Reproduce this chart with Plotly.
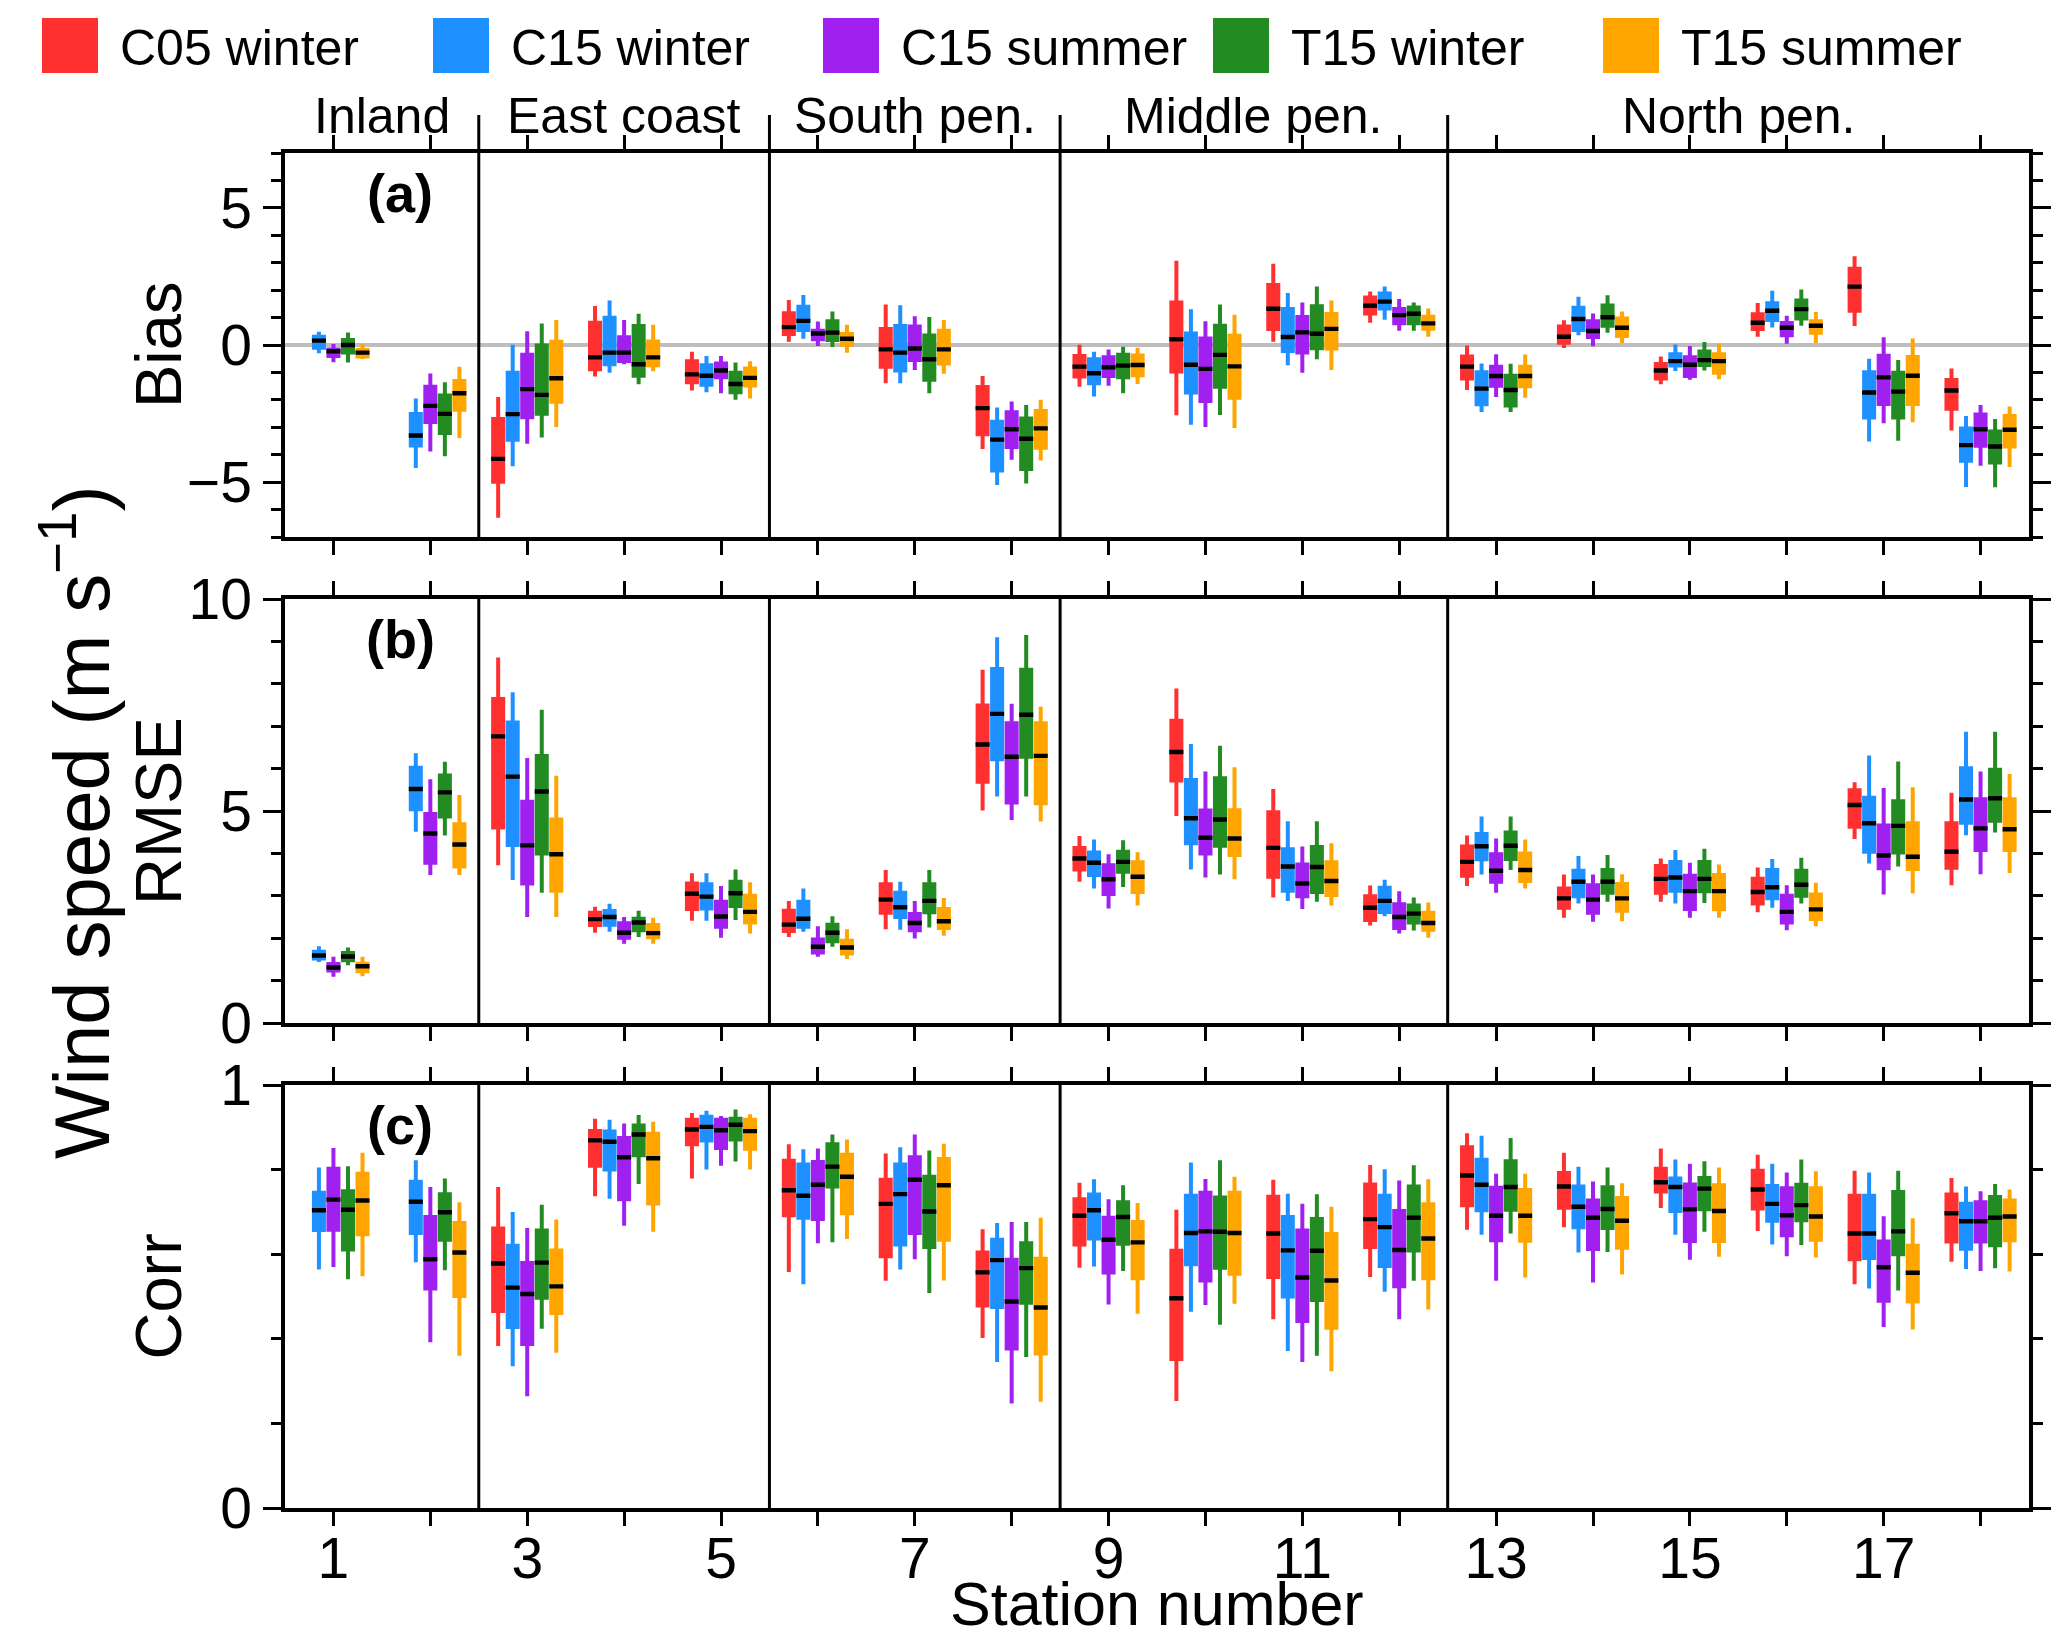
import plotly.graph_objects as go
from plotly.subplots import make_subplots

# the page puts an 8 px body margin round the figure, so the figure is
# 16 px smaller than the 2067x1646 window and positions below are given
# in window pixels
PAGE_PAD = 8
W, H = 2067 - 2 * PAGE_PAD, 1646 - 2 * PAGE_PAD
ML = 285 - PAGE_PAD
MR = W - (2029 - PAGE_PAD)
FONT = "Liberation Sans, Arial, Helvetica, sans-serif"

STATIONS = list(range(1, 19))
C05_STATIONS = STATIONS[2:]  # no C05 run over the two inland stations
LABELLED = STATIONS[::2]

SERIES = ["C05 winter", "C15 winter", "C15 summer", "T15 winter", "T15 summer"]
COLORS = ["#FF3030", "#1E90FF", "#A020F0", "#228B22", "#FFA500"]

REGIONS = ["Inland", "East coast", "South pen.", "Middle pen.", "North pen."]
REGION_EDGES = [0.5, 2.5, 5.5, 8.5, 12.5, 18.5]

# each row: (lower whisker, q1, median, q3, upper whisker)
BIAS_C05W = [
    (-6.30, -4.99, -4.15, -2.70, -1.90), (-1.15, -0.88, -0.45, 0.81, 1.42),
    (-1.66, -1.36, -1.07, -0.59, -0.25), (0.12, 0.40, 0.65, 1.16, 1.64),
    (-1.39, -0.79, -0.16, 0.58, 1.48), (-3.79, -3.25, -2.30, -1.53, -1.13),
    (-1.52, -1.15, -0.79, -0.40, 0.01), (-2.56, -0.97, 0.21, 1.55, 3.07),
    (0.12, 0.58, 1.32, 2.19, 2.96), (0.81, 1.15, 1.43, 1.73, 1.95),
    (-1.64, -1.22, -0.79, -0.42, -0.02), (-0.11, 0.08, 0.30, 0.67, 0.90),
    (-1.43, -1.22, -0.93, -0.69, -0.42), (0.30, 0.58, 0.81, 1.12, 1.53),
    (0.69, 1.25, 2.13, 2.78, 3.24), (-3.12, -2.32, -1.66, -1.28, -0.86),
]
BIAS_C15W = [
    (-0.30, -0.10, 0.16, 0.30, 0.48), (-4.48, -3.66, -3.30, -2.52, -1.95),
    (-4.42, -3.45, -2.52, -1.01, 0.01), (-1.01, -0.70, -0.28, 0.99, 1.62),
    (-1.72, -1.45, -1.12, -0.74, -0.40), (0.23, 0.55, 0.88, 1.39, 1.82),
    (-1.39, -0.93, -0.28, 0.69, 1.45), (-5.10, -4.58, -3.45, -2.80, -2.28),
    (-1.88, -1.39, -1.03, -0.52, -0.25), (-2.91, -1.73, -0.72, 0.42, 1.30),
    (-0.74, -0.22, 0.29, 1.31, 1.90), (0.92, 1.33, 1.58, 1.88, 2.13),
    (-2.44, -2.16, -1.59, -0.99, -0.67), (0.36, 0.55, 0.95, 1.36, 1.76),
    (-0.95, -0.75, -0.59, -0.34, 0.02), (0.64, 0.91, 1.25, 1.52, 1.98),
    (-3.52, -2.64, -1.73, -0.99, -0.50), (-5.18, -4.22, -3.65, -3.04, -2.59),
]
BIAS_C15S = [
    (-0.63, -0.40, -0.23, -0.16, 0.04), (-3.88, -2.81, -2.22, -1.52, -1.04),
    (-3.60, -2.63, -1.61, -0.36, 0.50), (-0.70, -0.58, -0.28, 0.28, 0.91),
    (-1.76, -1.18, -0.93, -0.67, -0.40), (-0.04, 0.21, 0.42, 0.52, 0.86),
    (-0.91, -0.55, -0.13, 0.67, 1.05), (-4.18, -3.72, -3.07, -2.45, -2.06),
    (-1.49, -1.13, -0.81, -0.45, -0.16), (-2.99, -2.04, -0.87, 0.24, 0.87),
    (-1.01, -0.27, 0.46, 1.02, 1.55), (0.52, 0.79, 1.09, 1.31, 1.68),
    (-1.90, -1.49, -1.13, -0.79, -0.34), (-0.05, 0.29, 0.51, 0.87, 1.15),
    (-1.27, -1.13, -0.72, -0.45, -0.04), (0.05, 0.36, 0.63, 0.80, 1.07),
    (-2.85, -2.15, -1.18, -0.39, 0.28), (-4.40, -3.67, -3.07, -2.53, -2.19),
]
BIAS_T15W = [
    (-0.64, -0.27, 0.00, 0.18, 0.46), (-4.06, -3.21, -2.51, -1.84, -1.36),
    (-3.37, -2.51, -1.82, -0.02, 0.78), (-1.43, -1.12, -0.70, 0.69, 1.14),
    (-2.00, -1.72, -1.42, -1.01, -0.64), (-0.07, 0.18, 0.45, 0.87, 1.22),
    (-1.76, -1.27, -0.52, 0.35, 1.02), (-5.05, -4.52, -3.42, -2.68, -2.19),
    (-1.76, -1.18, -0.75, -0.36, -0.06), (-2.55, -1.52, -0.36, 0.70, 1.48),
    (-0.52, -0.12, 0.41, 1.41, 2.13), (0.52, 0.79, 1.14, 1.37, 1.55),
    (-2.44, -2.21, -1.64, -1.12, -0.68), (0.45, 0.70, 1.01, 1.44, 1.81),
    (-0.93, -0.73, -0.55, -0.24, 0.11), (0.70, 0.97, 1.31, 1.62, 2.02),
    (-3.49, -2.64, -1.70, -1.01, -0.55), (-5.19, -4.28, -3.70, -3.15, -2.70),
]
BIAS_T15S = [
    (-0.51, -0.42, -0.28, -0.18, 0.04), (-3.39, -2.36, -1.76, -1.31, -0.79),
    (-2.99, -2.07, -1.21, 0.12, 0.91), (-0.96, -0.74, -0.45, 0.13, 0.74),
    (-1.95, -1.48, -1.20, -0.86, -0.59), (-0.28, 0.01, 0.23, 0.40, 0.74),
    (-1.05, -0.67, -0.16, 0.52, 0.91), (-4.21, -3.75, -3.04, -2.41, -2.00),
    (-1.42, -1.10, -0.73, -0.38, -0.10), (-3.03, -1.92, -0.78, 0.34, 1.10),
    (-0.91, -0.13, 0.59, 1.13, 1.62), (0.30, 0.59, 0.79, 1.03, 1.33),
    (-1.92, -1.50, -1.13, -0.79, -0.35), (0.07, 0.33, 0.63, 0.97, 1.22),
    (-1.25, -1.01, -0.59, -0.34, 0.05), (0.07, 0.45, 0.70, 0.87, 1.20),
    (-2.82, -2.15, -1.12, -0.44, 0.24), (-4.45, -3.70, -3.09, -2.59, -2.24),
]

RMSE_C05W = [
    (3.72, 4.61, 6.76, 7.64, 8.62), (2.13, 2.31, 2.45, 2.60, 2.74),
    (2.41, 2.69, 3.05, 3.29, 3.53), (2.03, 2.17, 2.32, 2.65, 2.88),
    (2.21, 2.60, 2.91, 3.27, 3.61), (5.01, 5.69, 6.57, 7.49, 8.33),
    (3.33, 3.62, 3.88, 4.13, 4.41), (4.88, 5.72, 6.39, 7.13, 7.89),
    (2.96, 3.45, 4.13, 4.97, 5.52), (2.30, 2.43, 2.72, 2.99, 3.24),
    (3.23, 3.47, 3.80, 4.16, 4.42), (2.48, 2.72, 2.94, 3.17, 3.50),
    (2.86, 3.07, 3.40, 3.70, 3.88), (2.61, 2.82, 3.09, 3.40, 3.67),
    (4.34, 4.63, 5.14, 5.49, 5.68), (3.25, 3.66, 4.04, 4.71, 5.43),
]
RMSE_C15W = [
    (1.44, 1.52, 1.59, 1.68, 1.81), (4.51, 5.04, 5.52, 6.02, 6.36),
    (3.37, 4.20, 5.81, 7.09, 7.80), (2.15, 2.32, 2.50, 2.64, 2.81),
    (2.41, 2.70, 2.98, 3.27, 3.53), (2.15, 2.27, 2.46, 2.86, 3.17),
    (2.20, 2.50, 2.73, 3.07, 3.33), (5.34, 6.22, 7.29, 8.35, 9.10),
    (3.17, 3.49, 3.78, 4.02, 4.33), (3.62, 4.24, 4.83, 5.73, 6.58),
    (2.88, 3.12, 3.69, 4.10, 4.76), (2.52, 2.62, 2.88, 3.19, 3.38),
    (3.50, 3.86, 4.17, 4.46, 4.87), (2.82, 2.99, 3.33, 3.59, 3.94),
    (2.82, 3.12, 3.43, 3.80, 4.08), (2.72, 2.94, 3.20, 3.61, 3.87),
    (3.76, 4.04, 4.71, 5.31, 6.31), (4.43, 4.72, 5.27, 6.01, 6.87),
]
RMSE_C15S = [
    (1.09, 1.24, 1.31, 1.39, 1.56), (3.49, 3.78, 4.47, 4.93, 5.75),
    (2.50, 3.29, 4.19, 5.22, 6.25), (1.87, 2.01, 2.13, 2.35, 2.50),
    (2.01, 2.27, 2.51, 2.86, 3.23), (1.56, 1.66, 1.80, 1.97, 2.28),
    (1.99, 2.19, 2.36, 2.57, 2.88), (4.79, 5.20, 6.28, 7.07, 7.53),
    (2.70, 3.04, 3.39, 3.72, 3.98), (3.43, 4.00, 4.37, 5.01, 5.93),
    (2.69, 2.99, 3.29, 3.74, 4.16), (2.11, 2.24, 2.50, 2.80, 3.11),
    (3.07, 3.33, 3.59, 3.98, 4.35), (2.39, 2.60, 2.91, 3.25, 3.50),
    (2.48, 2.69, 3.11, 3.47, 3.78), (2.19, 2.37, 2.62, 3.00, 3.25),
    (3.03, 3.65, 3.95, 4.66, 5.54), (3.51, 4.08, 4.59, 5.28, 5.93),
]
RMSE_T15W = [
    (1.36, 1.48, 1.57, 1.65, 1.78), (4.42, 4.87, 5.44, 5.84, 6.16),
    (3.07, 4.00, 5.46, 6.30, 7.39), (2.03, 2.19, 2.37, 2.46, 2.65),
    (2.43, 2.76, 3.06, 3.33, 3.62), (1.80, 1.93, 2.13, 2.32, 2.52),
    (2.25, 2.61, 2.88, 3.27, 3.61), (5.34, 6.28, 7.27, 8.33, 9.15),
    (3.21, 3.57, 3.80, 4.04, 4.31), (3.50, 4.18, 4.80, 5.77, 6.54),
    (2.86, 3.09, 3.68, 4.15, 4.76), (2.18, 2.37, 2.58, 2.77, 2.96),
    (3.61, 3.87, 4.18, 4.49, 4.87), (2.86, 3.07, 3.33, 3.61, 3.96),
    (2.83, 3.11, 3.40, 3.80, 4.11), (2.82, 3.00, 3.26, 3.59, 3.90),
    (3.69, 4.02, 4.65, 5.23, 6.17), (4.49, 4.77, 5.30, 5.97, 6.87),
]
RMSE_T15S = [
    (1.10, 1.22, 1.34, 1.40, 1.56), (3.49, 3.69, 4.21, 4.69, 5.38),
    (2.50, 3.12, 3.98, 4.80, 5.83), (1.87, 2.02, 2.12, 2.31, 2.48),
    (2.11, 2.37, 2.62, 3.00, 3.32), (1.51, 1.64, 1.78, 1.94, 2.21),
    (2.06, 2.24, 2.40, 2.69, 2.95), (4.75, 5.18, 6.30, 7.07, 7.46),
    (2.77, 3.09, 3.45, 3.79, 4.03), (3.39, 3.96, 4.35, 5.02, 6.03),
    (2.77, 3.02, 3.35, 3.79, 4.24), (2.01, 2.20, 2.36, 2.60, 2.84),
    (3.17, 3.35, 3.61, 4.00, 4.33), (2.40, 2.65, 2.94, 3.28, 3.51),
    (2.48, 2.68, 3.11, 3.49, 3.74), (2.28, 2.45, 2.68, 3.03, 3.31),
    (3.06, 3.63, 3.92, 4.71, 5.56), (3.54, 4.08, 4.57, 5.28, 5.87),
]

CORR_C05W = [
    (0.383, 0.466, 0.578, 0.661, 0.759), (0.737, 0.809, 0.869, 0.891, 0.920),
    (0.779, 0.860, 0.895, 0.918, 0.934), (0.558, 0.692, 0.751, 0.821, 0.860),
    (0.537, 0.595, 0.719, 0.776, 0.838), (0.402, 0.479, 0.557, 0.604, 0.659),
    (0.568, 0.623, 0.691, 0.730, 0.769), (0.253, 0.352, 0.496, 0.608, 0.705),
    (0.446, 0.546, 0.649, 0.736, 0.776), (0.546, 0.617, 0.683, 0.765, 0.811),
    (0.658, 0.716, 0.786, 0.853, 0.886), (0.664, 0.710, 0.760, 0.792, 0.840),
    (0.709, 0.748, 0.770, 0.802, 0.850), (0.655, 0.708, 0.753, 0.797, 0.835),
    (0.529, 0.588, 0.649, 0.738, 0.797), (0.582, 0.630, 0.697, 0.741, 0.780),
]
CORR_C15W = [
    (0.564, 0.657, 0.704, 0.745, 0.805), (0.581, 0.650, 0.724, 0.771, 0.822),
    (0.335, 0.428, 0.521, 0.620, 0.700), (0.731, 0.800, 0.866, 0.890, 0.918),
    (0.800, 0.869, 0.901, 0.925, 0.939), (0.529, 0.686, 0.738, 0.812, 0.848),
    (0.564, 0.623, 0.742, 0.812, 0.853), (0.345, 0.475, 0.586, 0.634, 0.674),
    (0.571, 0.637, 0.704, 0.741, 0.777), (0.464, 0.576, 0.650, 0.738, 0.817),
    (0.371, 0.500, 0.609, 0.688, 0.743), (0.511, 0.572, 0.664, 0.738, 0.801),
    (0.646, 0.704, 0.764, 0.823, 0.880), (0.604, 0.664, 0.712, 0.760, 0.807),
    (0.646, 0.702, 0.759, 0.779, 0.824), (0.623, 0.679, 0.719, 0.761, 0.814),
    (0.519, 0.591, 0.649, 0.738, 0.793), (0.565, 0.613, 0.678, 0.719, 0.760),
]
CORR_C15S = [
    (0.570, 0.658, 0.729, 0.802, 0.851), (0.392, 0.519, 0.588, 0.688, 0.759),
    (0.264, 0.388, 0.506, 0.579, 0.662), (0.667, 0.730, 0.829, 0.875, 0.909),
    (0.809, 0.851, 0.893, 0.918, 0.927), (0.626, 0.683, 0.764, 0.818, 0.850),
    (0.588, 0.650, 0.776, 0.829, 0.883), (0.247, 0.377, 0.488, 0.587, 0.676),
    (0.481, 0.557, 0.634, 0.686, 0.730), (0.480, 0.538, 0.654, 0.745, 0.778),
    (0.345, 0.442, 0.545, 0.656, 0.719), (0.446, 0.524, 0.610, 0.702, 0.774),
    (0.537, 0.633, 0.691, 0.757, 0.790), (0.533, 0.612, 0.686, 0.727, 0.772),
    (0.587, 0.631, 0.706, 0.765, 0.814), (0.595, 0.645, 0.692, 0.756, 0.793),
    (0.428, 0.490, 0.569, 0.630, 0.690), (0.560, 0.630, 0.678, 0.723, 0.749),
]
CORR_T15W = [
    (0.541, 0.611, 0.705, 0.749, 0.808), (0.562, 0.634, 0.699, 0.742, 0.779),
    (0.424, 0.497, 0.580, 0.656, 0.717), (0.766, 0.834, 0.883, 0.904, 0.929),
    (0.819, 0.871, 0.906, 0.920, 0.942), (0.628, 0.760, 0.807, 0.860, 0.883),
    (0.508, 0.617, 0.701, 0.783, 0.845), (0.357, 0.485, 0.567, 0.626, 0.676),
    (0.560, 0.625, 0.688, 0.723, 0.763), (0.433, 0.568, 0.653, 0.734, 0.822),
    (0.360, 0.492, 0.608, 0.683, 0.742), (0.537, 0.609, 0.686, 0.760, 0.810),
    (0.649, 0.705, 0.759, 0.820, 0.875), (0.605, 0.662, 0.707, 0.758, 0.805),
    (0.653, 0.706, 0.755, 0.780, 0.820), (0.622, 0.680, 0.716, 0.764, 0.824),
    (0.514, 0.600, 0.654, 0.747, 0.797), (0.567, 0.621, 0.686, 0.735, 0.766),
]
CORR_T15S = [
    (0.548, 0.647, 0.727, 0.790, 0.840), (0.360, 0.501, 0.604, 0.674, 0.723),
    (0.367, 0.461, 0.524, 0.609, 0.682), (0.653, 0.720, 0.827, 0.885, 0.913),
    (0.800, 0.849, 0.891, 0.918, 0.931), (0.636, 0.697, 0.783, 0.835, 0.871),
    (0.538, 0.634, 0.763, 0.825, 0.861), (0.251, 0.365, 0.474, 0.589, 0.686),
    (0.459, 0.543, 0.628, 0.676, 0.721), (0.483, 0.554, 0.650, 0.745, 0.783),
    (0.323, 0.426, 0.538, 0.648, 0.712), (0.469, 0.543, 0.637, 0.718, 0.777),
    (0.545, 0.632, 0.691, 0.752, 0.790), (0.552, 0.615, 0.679, 0.733, 0.768),
    (0.594, 0.631, 0.702, 0.763, 0.805), (0.592, 0.634, 0.689, 0.756, 0.796),
    (0.422, 0.488, 0.556, 0.620, 0.685), (0.559, 0.633, 0.689, 0.727, 0.753),
]

# ---------------------------------------
# panels: title, tag, data, y range, major ticks, minor step, pixel rows
# ---------------------------------------

PANELS = [
    dict(title="Bias", tag="(a)", range=[-7, 7], ticks=[-5, 0, 5], minor=1,
         top=153, bottom=537,
         data=[BIAS_C05W, BIAS_C15W, BIAS_C15S, BIAS_T15W, BIAS_T15S]),
    dict(title="RMSE", tag="(b)", range=[0, 10], ticks=[0, 5, 10], minor=1,
         top=599, bottom=1023,
         data=[RMSE_C05W, RMSE_C15W, RMSE_C15S, RMSE_T15W, RMSE_T15S]),
    dict(title="Corr", tag="(c)", range=[0, 1], ticks=[0, 1], minor=0.2,
         top=1085, bottom=1508,
         data=[CORR_C05W, CORR_C15W, CORR_C15S, CORR_T15W, CORR_T15S]),
]


def px_x(p):
    return (p - PAGE_PAD - ML) / (W - ML - MR)


def px_y(p):
    return 1 - (p - PAGE_PAD) / H


fig = make_subplots(rows=3, cols=1, shared_xaxes=True)

shapes = []
annotations = []

for row, panel in enumerate(PANELS, start=1):

    # coloured boxes + whiskers first, black medians on top
    for name, color, stats in zip(SERIES, COLORS, panel["data"]):
        xs = C05_STATIONS if name == "C05 winter" else STATIONS
        lo, q1, med, q3, hi = zip(*stats)
        fig.add_trace(go.Box(
            x=xs, lowerfence=lo, q1=q1, median=med, q3=q3, upperfence=hi,
            name=name, offsetgroup=name, fillcolor=color,
            line=dict(color=color, width=4), whiskerwidth=0,
            boxpoints=False, showlegend=False, hoverinfo="skip"
        ), row=row, col=1)

    # median bar: a hair-thin black box so its stroke corners reach the
    # full width of the coloured box
    hair = (panel["range"][1] - panel["range"][0]) * 0.0005
    for name, stats in zip(SERIES, panel["data"]):
        xs = C05_STATIONS if name == "C05 winter" else STATIONS
        med = [s[2] for s in stats]
        fig.add_trace(go.Box(
            x=xs, median=med,
            q1=[m - hair for m in med], q3=[m + hair for m in med],
            lowerfence=[m - hair for m in med], upperfence=[m + hair for m in med],
            name=name, offsetgroup=name, fillcolor="black",
            line=dict(color="black", width=4), whiskerwidth=0,
            boxpoints=False, showlegend=False, hoverinfo="skip"
        ), row=row, col=1)

    xref = "x" if row == 1 else f"x{row}"
    yref = "y" if row == 1 else f"y{row}"

    for edge in REGION_EDGES[1:-1]:
        shapes.append(dict(type="line", xref=xref, yref=f"{yref} domain",
                           x0=edge, x1=edge, y0=0, y1=1,
                           line=dict(color="black", width=3)))

    fig.update_yaxes(
        row=row, col=1,
        domain=[px_y(panel["bottom"]), px_y(panel["top"])],
        range=panel["range"], automargin=False,
        tickmode="array", tickvals=panel["ticks"],
        ticks="outside", ticklen=18, tickwidth=3, tickcolor="black",
        minor=dict(dtick=panel["minor"], tick0=0, ticks="outside",
                   ticklen=10, tickwidth=3, tickcolor="black", showgrid=False),
        showline=True, linecolor="black", linewidth=3.5, mirror="ticks",
        showgrid=False, zeroline=(row == 1), zerolinecolor="#BEBEBE",
        zerolinewidth=4,
        tickfont=dict(size=57, color="black", family=FONT),
    )

    annotations.append(dict(
        text=panel["title"], textangle=-90, showarrow=False,
        xref="paper", yref="paper",
        x=px_x(158), y=px_y((panel["top"] + panel["bottom"]) / 2),
        xanchor="center", yanchor="middle",
        font=dict(size=65, color="black", family=FONT)
    ))

    annotations.append(dict(
        text=f"<b>{panel['tag']}</b>", showarrow=False,
        xref="paper", yref="paper",
        x=px_x(400), y=px_y(panel["top"] + 40),
        xanchor="center", yanchor="middle",
        font=dict(size=54, color="black", family=FONT)
    ))

fig.update_xaxes(
    range=[0.5, 18.5], automargin=False,
    tickmode="array", tickvals=LABELLED, ticktext=[str(s) for s in LABELLED],
    ticks="outside", ticklen=14, tickwidth=3, tickcolor="black",
    minor=dict(dtick=1, tick0=0, ticks="outside", ticklen=14, tickwidth=3,
               tickcolor="black", showgrid=False),
    ticklabelstandoff=-16,
    showline=True, linecolor="black", linewidth=3.5, mirror="ticks",
    showgrid=False, zeroline=False,
    tickfont=dict(size=57, color="black", family=FONT),
)

# region dividers poking out above panel (a) and the region names
for edge in REGION_EDGES[1:-1]:
    shapes.append(dict(type="line", xref="x", yref="paper",
                       x0=edge, x1=edge, y0=px_y(153), y1=px_y(115),
                       line=dict(color="black", width=3)))

for name, left, right in zip(REGIONS, REGION_EDGES[:-1], REGION_EDGES[1:]):
    annotations.append(dict(
        text=name, showarrow=False, xref="x", yref="paper",
        x=(left + right) / 2, y=px_y(116),
        xanchor="center", yanchor="middle",
        font=dict(size=50, color="black", family=FONT)
    ))

# legend drawn by hand: big filled squares + labels
LEGEND_LEFT = [42, 433, 823, 1213, 1603]
for name, color, left in zip(SERIES, COLORS, LEGEND_LEFT):
    shapes.append(dict(type="rect", xref="paper", yref="paper",
                       x0=px_x(left), x1=px_x(left + 56),
                       y0=px_y(73), y1=px_y(18),
                       fillcolor=color, line=dict(width=0)))
    annotations.append(dict(
        text=name, showarrow=False, xref="paper", yref="paper",
        x=px_x(left + 76), y=px_y(48),
        xanchor="left", yanchor="middle",
        font=dict(size=50, color="black", family=FONT)
    ))

annotations.append(dict(
    text="Wind speed (m s<sup>\u22121</sup>)", textangle=-90, showarrow=False,
    xref="paper", yref="paper", x=px_x(76), y=px_y(823),
    xanchor="center", yanchor="middle",
    font=dict(size=78, color="black", family=FONT)
))

annotations.append(dict(
    text="Station number", showarrow=False,
    xref="paper", yref="paper", x=0.5, y=px_y(1604),
    xanchor="center", yanchor="middle",
    font=dict(size=61, color="black", family=FONT)
))

fig.update_layout(
    width=W, height=H,
    margin=dict(l=ML, r=MR, t=0, b=0, autoexpand=False),
    paper_bgcolor="white", plot_bgcolor="white",
    boxmode="group", boxgap=0.25, boxgroupgap=0.31,
    showlegend=False,
    shapes=shapes,
    annotations=annotations,
    font=dict(family=FONT, color="black"),
)

fig.write_html("out.html")
